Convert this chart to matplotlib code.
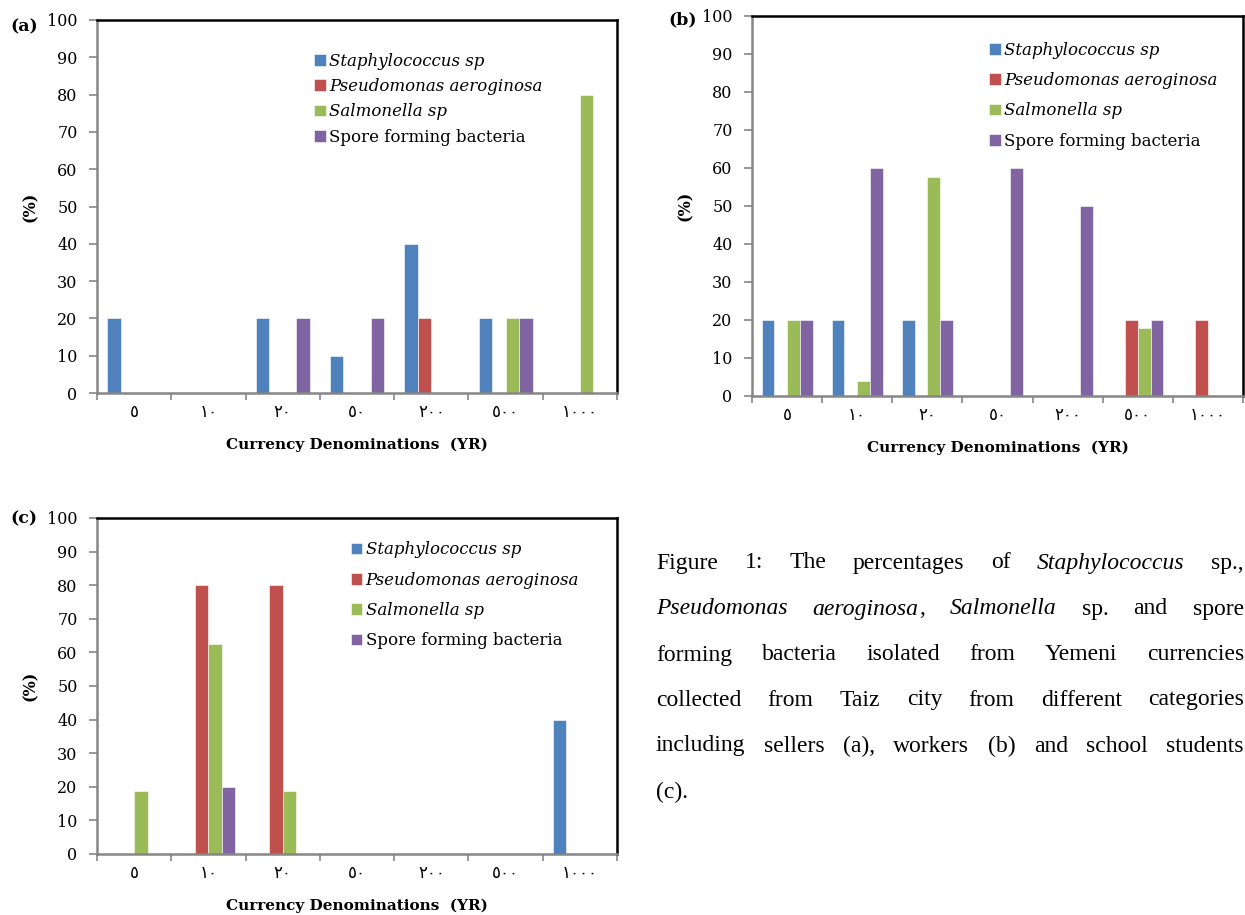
import numpy as np
import matplotlib
matplotlib.use("Agg")
import matplotlib.pyplot as plt
from matplotlib.ticker import MultipleLocator, FixedLocator

# currency denominations (Yemeni rial), written with Arabic-Indic digits as in the source
denoms = ["٥", "١٠", "٢٠", "٥٠", "٢٠٠", "٥٠٠", "١٠٠٠"]
series = ["Staphylococcus sp", "Pseudomonas aeroginosa", "Salmonella sp",
          "Spore forming bacteria"]
colors = ["#4F81BD", "#C0504D", "#9BBB59", "#8064A2"]

# (a) sellers
a_staph = [20, 0, 20, 10, 40, 20, 0]
a_pseudo = [0, 0, 0, 0, 20, 0, 0]
a_salm = [0, 0, 0, 0, 0, 20, 80]
a_spore = [0, 0, 20, 20, 0, 20, 0]

# (b) workers
b_staph = [20, 20, 20, 0, 0, 0, 0]
b_pseudo = [0, 0, 0, 0, 0, 20, 20]
b_salm = [20, 4, 57.5, 0, 0, 18, 0]
b_spore = [20, 60, 20, 60, 50, 20, 0]

# (c) school students
c_staph = [0, 0, 0, 0, 0, 0, 40]
c_pseudo = [0, 80, 80, 0, 0, 0, 0]
c_salm = [18.7, 62.5, 18.7, 0, 0, 0, 0]
c_spore = [0, 20, 0, 0, 0, 0, 0]

W, H = 1245, 915
fig = plt.figure(figsize=(W / 100, H / 100), dpi=100)

SERIF = "DejaVu Serif"
GRAY = "#868686"


def px_axes(l, t, r, b):
    return fig.add_axes([l / W, 1 - b / H, (r - l) / W, (b - t) / H])


def panel(ax, data, leg_anchor, leg_space):
    x = np.arange(len(denoms))
    w = 1 / 5.5
    handles = []
    for i, vals in enumerate(data):
        h = ax.bar(x + (i - 1.5) * w, vals, w, color=colors[i],
                   edgecolor="white", linewidth=0.4, zorder=2)
        handles.append(h)
    ax.set_xlim(-0.5, len(denoms) - 0.5)
    ax.set_ylim(0, 100)
    ax.yaxis.set_major_locator(MultipleLocator(10))
    ax.set_xticks(x)
    ax.set_xticklabels(denoms, family=["DejaVu Sans"], fontsize=12)
    ax.xaxis.set_minor_locator(FixedLocator(np.arange(-0.5, len(denoms), 1)))
    ax.tick_params(axis="x", which="major", length=0, pad=7)
    ax.tick_params(axis="x", which="minor", length=5, color=GRAY, width=1.2)
    ax.tick_params(axis="y", length=6, color=GRAY, width=1.2, pad=8,
                   labelsize=11.5)
    for lab in ax.get_yticklabels():
        lab.set_family(SERIF)
    for s in ["left", "bottom"]:
        ax.spines[s].set_color(GRAY)
        ax.spines[s].set_linewidth(1.8)
    for s in ["top", "right"]:
        ax.spines[s].set_color("black")
        ax.spines[s].set_linewidth(1.8)
    ax.set_xlabel("Currency Denominations  (YR)", family=SERIF,
                  fontweight="bold", fontsize=11, labelpad=12)
    ax.set_ylabel("(%)", family=SERIF, fontweight="bold", fontsize=11.5,
                  labelpad=6)
    leg = ax.legend(handles, series, loc="upper left", bbox_to_anchor=leg_anchor,
                    frameon=False, prop={"family": SERIF, "size": 12},
                    handlelength=0.7, handleheight=0.7, handletextpad=0.2,
                    labelspacing=leg_space, borderaxespad=0)
    for t in leg.get_texts()[:3]:
        t.set_fontstyle("italic")
    return ax


ax_a = px_axes(97, 20, 617, 393)
panel(ax_a, [a_staph, a_pseudo, a_salm, a_spore], (0.405, 0.93), 0.5)
ax_b = px_axes(752, 16, 1243, 396)
panel(ax_b, [b_staph, b_pseudo, b_salm, b_spore], (0.47, 0.95), 0.8)
ax_c = px_axes(97, 518, 617, 854)
panel(ax_c, [c_staph, c_pseudo, c_salm, c_spore], (0.475, 0.95), 0.8)

for tag, xp, yp in [("(a)", 10, 27), ("(b)", 668, 20), ("(c)", 10, 519)]:
    fig.text(xp / W, 1 - yp / H, tag, family=SERIF, fontweight="bold",
             fontsize=12.5, va="center", ha="left")

# justified caption
caption = [
    [[("Figure", "normal")], [("1:", "normal")], [("The", "normal")],
     [("percentages", "normal")], [("of", "normal")],
     [("Staphylococcus", "italic")], [("sp.,", "normal")]],
    [[("Pseudomonas", "italic")], [("aeroginosa", "italic"), (",", "normal")],
     [("Salmonella", "italic")], [("sp.", "normal")], [("and", "normal")],
     [("spore", "normal")]],
    [[(w, "normal")] for w in "forming bacteria isolated from Yemeni currencies".split()],
    [[(w, "normal")] for w in "collected from Taiz city from different categories".split()],
    [[(w, "normal")] for w in "including sellers (a), workers (b) and school students".split()],
    [[("(c).", "normal")]],
]
CAP_FONT = "Liberation Serif"
CAP_SIZE = 17
x0, x1 = 656, 1244
y_lines = [563, 609, 655, 700, 746, 792]
renderer = fig.canvas.get_renderer()


def word_parts(word, xpos, ypos):
    arts = []
    for txt, style in word:
        t = fig.text(xpos / W, 1 - ypos / H, txt, family=CAP_FONT,
                     fontsize=CAP_SIZE, style=style, va="center", ha="left")
        wpx = t.get_window_extent(renderer).width
        arts.append((t, wpx))
        xpos += wpx
    return arts


for li, (line, yl) in enumerate(zip(caption, y_lines)):
    placed = [word_parts(wd, 0, yl) for wd in line]
    widths = [sum(p[1] for p in parts) for parts in placed]
    if li < len(caption) - 1 and len(line) > 1:
        gap = (x1 - x0 - sum(widths)) / (len(line) - 1)
    else:
        gap = 5
    xp = x0
    for parts, wd in zip(placed, widths):
        xx = xp
        for t, wpx in parts:
            t.set_x(xx / W)
            xx += wpx
        xp += wd + gap

fig.savefig("out.png", dpi=100)
